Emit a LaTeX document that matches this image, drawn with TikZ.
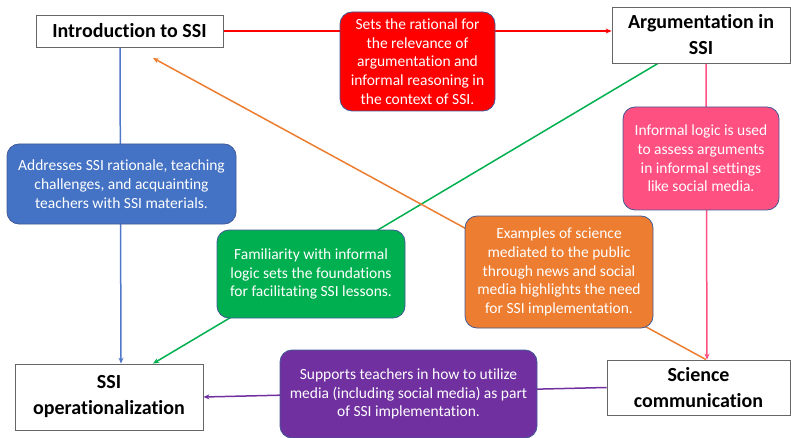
\documentclass[tikz,border=0pt]{standalone}
\usepackage{fontspec}
\setmainfont{Carlito}[Ligatures={NoCommon}]
\usetikzlibrary{arrows.meta,backgrounds}
\definecolor{cRed}{RGB}{255,0,0}
\definecolor{cBlue}{RGB}{68,114,196}
\definecolor{cGreen}{RGB}{0,176,80}
\definecolor{cOrange}{RGB}{237,125,49}
\definecolor{cPink}{RGB}{255,80,130}
\definecolor{cPurple}{RGB}{112,48,160}
\definecolor{cEdge}{RGB}{65,90,150}
\definecolor{lBlue}{RGB}{80,120,200}
\tikzset{
  titlebox/.style={draw=black!60, line width=0.8pt, fill=white, inner sep=2pt, align=center,
     font=\fontsize{20}{26}\selectfont\bfseries},
  notebox/.style={draw=cEdge, line width=0.8pt, rounded corners=12pt, text=white, inner sep=2pt,
     align=center, font=\fontsize{15.5}{18.7}\selectfont},
  conn/.style={line width=1.5pt, -{Stealth[length=6pt,width=5pt]}},
}
\begin{document}
\begin{tikzpicture}[x=1pt,y=-1pt]
\useasboundingbox (0,0) rectangle (791,438);
% title boxes
\node[titlebox, minimum width=187pt, minimum height=32pt] (intro) at (129.5,31) {Introduction to SSI};
\node[titlebox, minimum width=178pt, minimum height=56pt] (arg) at (701,35) {Argumentation in\\SSI};
\node[titlebox, minimum width=188pt, minimum height=66pt] (op) at (109,397) {SSI\\operationalization};
\node[titlebox, minimum width=183pt, minimum height=55pt] (sci) at (698.5,387.5) {Science\\communication};
% note boxes
\node[notebox, fill=cRed, minimum width=155pt, minimum height=99pt] (red) at (417.5,61.5)
  {Sets the rational for\\the relevance of\\argumentation and\\informal reasoning in\\the context of SSI.};
\node[notebox, fill=cBlue, minimum width=229pt, minimum height=80pt] (blue) at (121.5,184)
  {Addresses SSI rationale, teaching\\challenges, and acquainting\\teachers with SSI materials.};
\node[notebox, fill=cGreen, minimum width=188pt, minimum height=88pt] (green) at (311,274)
  {Familiarity with informal\\logic sets the foundations\\for facilitating SSI lessons.};
\node[notebox, fill=cOrange, minimum width=188pt, minimum height=112pt] (orange) at (559,272)
  {Examples of science\\mediated to the public\\through news and social\\media highlights the need\\for SSI implementation.};
\node[notebox, fill=cPink, minimum width=156pt, minimum height=103pt] (pink) at (701,158.5)
  {Informal logic is used\\to assess arguments\\in informal settings\\like social media.};
\node[notebox, fill=cPurple, minimum width=257pt, minimum height=88pt] (purple) at (408.5,394)
  {Supports teachers in how to utilize\\media (including social media) as part\\of SSI implementation.};
% free ends
\coordinate (oEnd) at (153,58);
\begin{scope}[on background layer]
\draw[conn, cRed] (intro.east) -- (arg.west |- intro.east);
\draw[conn, lBlue] (intro.south -| 120,0) -- (op.north -| 121,0);
\draw[conn, cGreen] (arg.south -| 658,0) -- (op.north -| 153,0);
\draw[conn, cPink] (arg.south -| 706,0) -- (sci.north -| 707,0);
\draw[conn, cOrange] (sci.north -| 706,0) -- (oEnd);
\draw[conn, cPurple] (sci.west) -- (op.east);
\end{scope}
\end{tikzpicture}
\end{document}
